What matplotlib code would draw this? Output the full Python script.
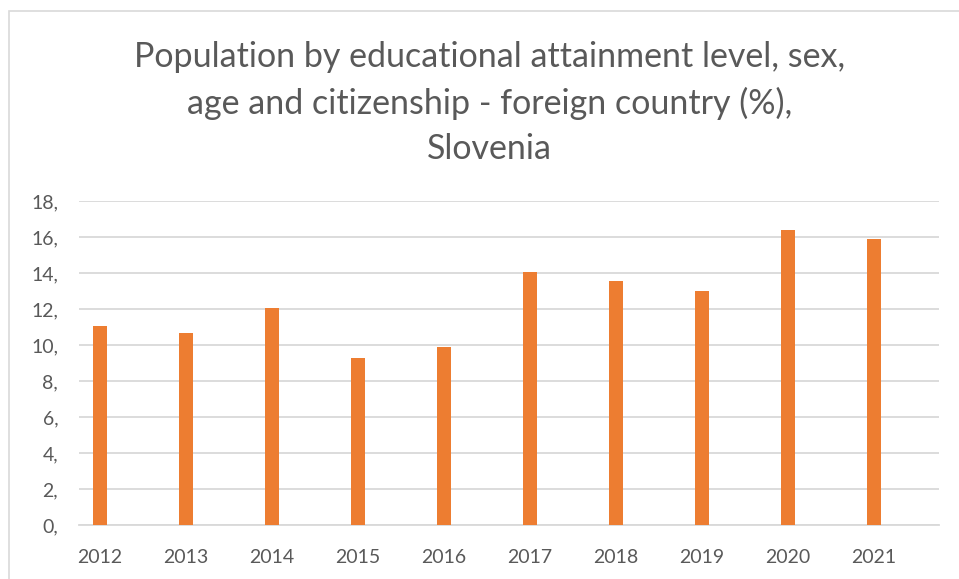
import matplotlib
matplotlib.use("Agg")
import matplotlib.pyplot as plt
from matplotlib.patches import Rectangle

years = ["2012", "2013", "2014", "2015", "2016", "2017", "2018", "2019", "2020", "2021"]
values = [11.1, 10.7, 12.1, 9.3, 9.9, 14.1, 13.6, 13.0, 16.4, 15.9]
yticks = [0, 2, 4, 6, 8, 10, 12, 14, 16, 18]
ytick_labels = [f"{v}," for v in yticks]
title = "Population by educational attainment level, sex,\nage and citizenship - foreign country (%),\nSlovenia"

plt.rcParams['font.family'] = ['Lato', 'DejaVu Sans']
W, H = 959, 579
fig = plt.figure(figsize=(W / 100, H / 100), dpi=100)
fig.patch.set_facecolor("white")

# outer chart border
fig.patches.append(Rectangle((9 / W, -0.1), 1.2, 1 - 11 / H + 0.1, transform=fig.transFigure,
                             fill=False, edgecolor="#d9d9d9", linewidth=1.2))

left, right = 79 / W, 938.7 / W
bottom, top = (H - 525.3) / H, (H - 201.3) / H
ax = fig.add_axes([left, bottom, right - left, top - bottom])

x = list(range(len(years)))
ax.bar(x, values, width=14 / 86, color="#ED7D31", zorder=3)

ax.set_xlim(-0.244, 9.75)
ax.set_ylim(0, 18)
ax.set_yticks(yticks)
ax.set_yticklabels(ytick_labels)
ax.set_xticks(x)
ax.set_xticklabels(years)
ax.grid(axis="y", color="#d9d9d9", linewidth=1.3, zorder=0)
for s in ["top", "right", "left"]:
    ax.spines[s].set_visible(False)
ax.spines["bottom"].set_color("#d9d9d9")
ax.spines["bottom"].set_linewidth(1.3)
ax.tick_params(axis="both", length=0, labelsize=14, colors="#595959")
ax.tick_params(axis="y", pad=15)
ax.tick_params(axis="x", pad=17)
for lbl in ax.get_yticklabels():
    lbl.set_horizontalalignment("right")

fig.text(489.5 / W, (H - 103) / H, title, ha="center", va="center",
         fontsize=24.5, color="#595959", linespacing=1.5)

fig.savefig("out.png", dpi=100, facecolor="white")
